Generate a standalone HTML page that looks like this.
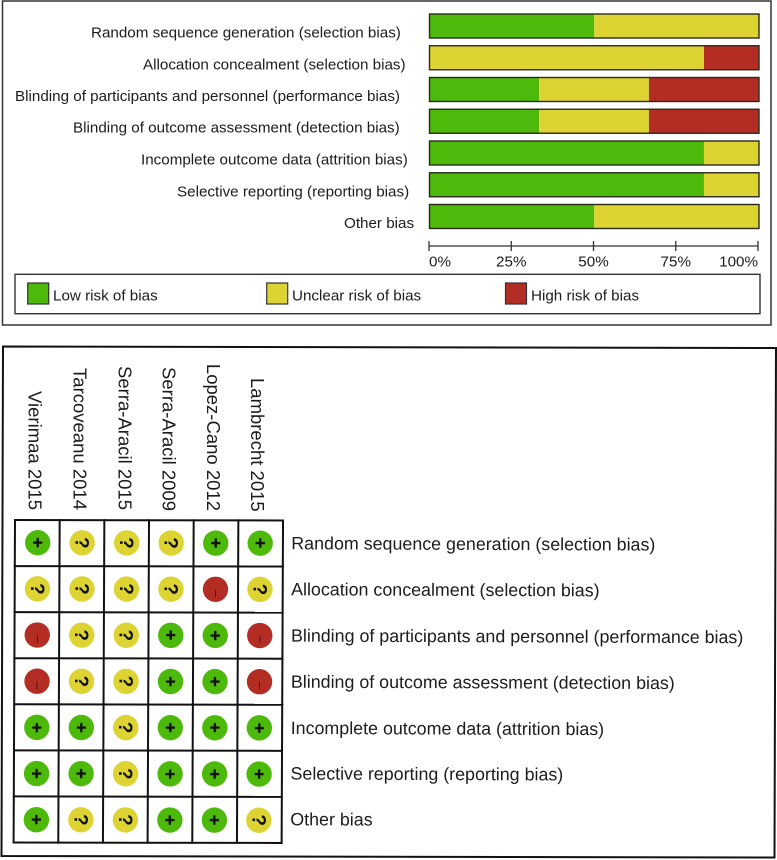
<!DOCTYPE html>
<html lang="en">
<head>
<meta charset="utf-8">
<title>Risk of bias summary</title>
<style>
html,body{margin:0;padding:0;background:#fff;}
svg{display:block;}
text{font-family:"Liberation Sans",Arial,sans-serif;fill:#1c1c1c;}
.tl{font-size:15.2px;}
.rl{font-size:17.85px;}
.cl{font-size:18.5px;}
</style>
</head>
<body>
<svg id="chart" xmlns="http://www.w3.org/2000/svg" width="777" height="860" viewBox="0 0 777 860">
  <rect x="2.5" y="1" width="768.5" height="324" fill="#fff" stroke="#333" stroke-width="1.5"/>
  <g id="top-labels">
    <text class="tl" x="91" y="37.7">Random sequence generation (selection bias)</text>
    <text class="tl" x="143" y="69.3">Allocation concealment (selection bias)</text>
    <text class="tl" x="15" y="101">Blinding of participants and personnel (performance bias)</text>
    <text class="tl" x="73" y="132.7">Blinding of outcome assessment (detection bias)</text>
    <text class="tl" x="141" y="164.7">Incomplete outcome data (attrition bias)</text>
    <text class="tl" x="177" y="196.3">Selective reporting (reporting bias)</text>
    <text class="tl" x="344" y="228">Other bias</text>
  </g>
  <g id="bars"></g>
  <g id="axis"></g>
  <g>
    <rect x="15" y="274.3" width="745" height="39.4" fill="#fff" stroke="#333" stroke-width="1.4"/>
    <rect x="27.7" y="283" width="21" height="21" fill="#4db90b" stroke="#333" stroke-width="1.2"/>
    <text class="tl" x="53" y="300.7">Low risk of bias</text>
    <rect x="266.7" y="283" width="21" height="21" fill="#ddd333" stroke="#333" stroke-width="1.2"/>
    <text class="tl" x="292" y="300.7">Unclear risk of bias</text>
    <rect x="505.5" y="283" width="21" height="21" fill="#b32d25" stroke="#333" stroke-width="1.2"/>
    <text class="tl" x="531" y="300.7">High risk of bias</text>
  </g>

  <polygon points="3,346.5 776,348 774.5,857.5 1.5,856" fill="#fff" stroke="#111" stroke-width="2"/>
  <g>
    <text class="cl" text-anchor="end" transform="translate(28.5,510) rotate(90)">Vierimaa 2015</text>
    <text class="cl" text-anchor="end" transform="translate(73.5,510) rotate(90)">Tarcoveanu 2014</text>
    <text class="cl" text-anchor="end" transform="translate(118.5,510) rotate(90)">Serra-Aracil 2015</text>
    <text class="cl" text-anchor="end" transform="translate(162.5,511) rotate(90)">Serra-Aracil 2009</text>
    <text class="cl" text-anchor="end" transform="translate(207,511) rotate(90)">Lopez-Cano 2012</text>
    <text class="cl" text-anchor="end" transform="translate(251,511.7) rotate(90)">Lambrecht 2015</text>
  </g>
  <g id="grid"></g>
  <g id="cells"></g>
  <g>
    <text class="rl" transform="translate(291.3,549.3) rotate(0.2)">Random sequence generation (selection bias)</text>
    <text class="rl" transform="translate(291.1,595.3) rotate(0.2)">Allocation concealment (selection bias)</text>
    <text class="rl" transform="translate(291,641.6) rotate(0.2)">Blinding of participants and personnel (performance bias)</text>
    <text class="rl" transform="translate(290.9,687.7) rotate(0.2)">Blinding of outcome assessment (detection bias)</text>
    <text class="rl" transform="translate(290.7,734) rotate(0.2)">Incomplete outcome data (attrition bias)</text>
    <text class="rl" transform="translate(290.5,779.5) rotate(0.2)">Selective reporting (reporting bias)</text>
    <text class="rl" transform="translate(290.3,825.3) rotate(0.2)">Other bias</text>
  </g>
</svg>
<script>
// Percent of studies per domain, top to bottom
const domains = ['Random sequence generation','Allocation concealment','Blinding of participants and personnel','Blinding of outcome assessment','Incomplete outcome data','Selective reporting','Other bias'];
const lowRisk = [50, 0, 33.3, 33.3, 83.3, 83.3, 50];
const unclearRisk = [50, 83.3, 33.3, 33.3, 16.7, 16.7, 50];
const highRisk = [0, 16.7, 33.4, 33.4, 0, 0, 0];
const axisTicks = [0, 25, 50, 75, 100];
const tickLabels = ['0%', '25%', '50%', '75%', '100%'];
// Studies left to right; each row is one domain
const studies = ['Vierimaa 2015','Tarcoveanu 2014','Serra-Aracil 2015','Serra-Aracil 2009','Lopez-Cano 2012','Lambrecht 2015'];
const judgements = [
  ['+','?','?','?','+','+'],
  ['?','?','?','?','-','?'],
  ['-','?','?','+','+','-'],
  ['-','?','?','+','+','-'],
  ['+','+','?','+','+','+'],
  ['+','+','?','+','+','+'],
  ['+','?','?','+','+','?']
];

const NS = 'http://www.w3.org/2000/svg';
const GREEN = '#4db90b', YELLOW = '#ddd333', RED = '#b32d25';
function make(parent, tag, attrs, txt) {
  const el = document.createElementNS(NS, tag);
  for (const k in attrs) el.setAttribute(k, attrs[k]);
  if (txt !== undefined) el.textContent = txt;
  parent.appendChild(el);
  return el;
}
function xPct(v) { return 429.5 + v / 100 * 329.5; }
function xAxisPct(v) { return 429 + v / 100 * 329; }
function yBar(i) { return 14 + i * 31.75; }
const BAR_H = 24;

const barsG = document.getElementById('bars');
domains.forEach(function (d, i) {
  let acc = 0;
  [[lowRisk[i], GREEN], [unclearRisk[i], YELLOW], [highRisk[i], RED]].forEach(function (seg) {
    if (seg[0] > 0) {
      const r = make(barsG, 'rect', {x: xPct(acc), y: yBar(i), width: xPct(acc + seg[0]) - xPct(acc), height: BAR_H, fill: seg[1]});
      
      
    }
    acc += seg[0];
  });
  const o = make(barsG, 'rect', {x: xPct(0), y: yBar(i), width: xPct(100) - xPct(0), height: BAR_H, fill: 'none', stroke: '#2b2b1c', 'stroke-width': 1.4});
  
  
});

const axisG = document.getElementById('axis');
const axisLine = make(axisG, 'line', {x1: xAxisPct(0), x2: xAxisPct(100), y1: 246, y2: 246, stroke: '#333', 'stroke-width': 1.3});


axisTicks.forEach(function (t, i) {
  const tick = make(axisG, 'line', {x1: xAxisPct(t), x2: xAxisPct(t), y1: 241, y2: 251, stroke: '#333', 'stroke-width': 1.3});
  
  
  const anchor = i === 0 ? 'start' : (i === axisTicks.length - 1 ? 'end' : 'middle');
  const lbl = make(axisG, 'text', {x: xAxisPct(t), y: 266.7, 'text-anchor': anchor, 'class': 'tl'}, tickLabels[i]);
  
  
});

// The summary grid is very slightly skewed in the reference
function gx(c, r) { return 15 + c * 44.67 - r * 0.2; }
function gy(r, c) { return 520 + r * 46.07 + c * 0.08; }
const gridG = document.getElementById('grid');
for (let c = 0; c <= studies.length; c++) {
  const v = make(gridG, 'line', {x1: gx(c, 0), y1: gy(0, c), x2: gx(c, domains.length), y2: gy(domains.length, c), stroke: '#111', 'stroke-width': 2, 'stroke-linecap': 'square'});
  
  
}
for (let r = 0; r <= domains.length; r++) {
  const h = make(gridG, 'line', {x1: gx(0, r), y1: gy(r, 0), x2: gx(studies.length, r), y2: gy(r, studies.length), stroke: '#111', 'stroke-width': 2, 'stroke-linecap': 'square'});
  
  
}

const cellsG = document.getElementById('cells');
const fills = {'+': GREEN, '?': YELLOW, '-': RED};
function cellX(c, r) { return 37.7 + c * 44.5 - r * 0.22; }
function cellY(r, c) { return 542.7 + r * 46.17 + c * 0.1; }
judgements.forEach(function (row, r) {
  row.forEach(function (val, c) {
    const cx = cellX(c, r), cy = cellY(r, c);
    const g = make(cellsG, 'g', {});
    
    
    make(g, 'circle', {cx: cx, cy: cy, r: 12.7, fill: fills[val]});
    if (val === '+') {
      make(g, 'text', {x: cx, y: cy + 5.9, 'text-anchor': 'middle', 'font-size': 17.5, 'font-weight': 'bold', style: 'fill:#111;stroke:#111;stroke-width:0.4'}, '+');
    } else if (val === '?') {
      make(g, 'text', {transform: 'translate(' + cx + ',' + cy + ') rotate(90)', x: 0, y: 6.6, 'text-anchor': 'middle', 'font-size': 19, 'font-weight': 'bold', style: 'fill:#111'}, '?');
    } else {
      make(g, 'text', {transform: 'translate(' + (cx + 0.5) + ',' + (cy + 4.2) + ') rotate(90)', x: 0, y: 3.8, 'text-anchor': 'middle', 'font-size': 14, style: 'fill:#3a1a14'}, '–');
    }
  });
});
</script>
</body>
</html>
